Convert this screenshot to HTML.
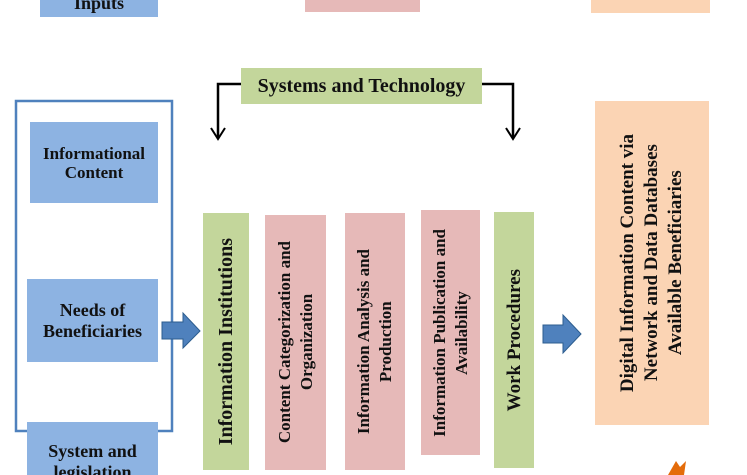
<html><head><style>
html,body{margin:0;width:747px;height:475px;overflow:hidden}
body{position:relative;background:#fff;font-family:"Liberation Serif",serif;font-weight:bold;color:#111}
.b{position:absolute;display:flex;align-items:center;justify-content:center;text-align:center;font-size:17px;line-height:19px;overflow:hidden}
.blue{background:#8db3e2}.pink{background:#e6b9b8}.green{background:#c3d69b}.peach{background:#fbd4b4}
.v{writing-mode:vertical-rl;transform:rotate(180deg);white-space:nowrap}
</style></head><body>
<div class="b blue" style="left:40px;top:-10px;width:118px;height:27px;font-size:18px">Inputs</div>
<div class="b pink" style="left:305px;top:0;width:115px;height:12px"></div>
<div class="b peach" style="left:591px;top:0;width:119px;height:13px"></div>
<svg width="747" height="475" style="position:absolute;left:0;top:0">
<polyline points="218,138 218,84 513,84 513,138" fill="none" stroke="#000" stroke-width="2.5"/>
<polyline points="211,128 218,139 225,128" fill="none" stroke="#000" stroke-width="2"/>
<polyline points="506,128 513,139 520,128" fill="none" stroke="#000" stroke-width="2"/>
<rect x="16" y="101" width="156" height="330" fill="none" stroke="#4f81bd" stroke-width="2.5"/>
<polygon points="162,322 183,322 183,313 200,331 183,348 183,339 162,339" fill="#4f81bd" stroke="#2c5d8f"/>
<polygon points="543,325 563,325 563,315 581,334 563,353 563,343 543,343" fill="#4f81bd" stroke="#2c5d8f"/>
<path d="M668 475 l8-14 l4 6 l6-6 l-2 14z" fill="#e46c0a"/>
</svg>
<div class="b green" style="left:241px;top:68px;width:241px;height:36px;font-size:20px">Systems and Technology</div>
<div class="b blue" style="left:30px;top:122px;width:128px;height:81px">Informational<br>Content</div>
<div class="b blue" style="left:27px;top:279px;width:131px;height:83px;font-size:18px;line-height:21px">Needs of<br>Beneficiaries</div>
<div class="b blue" style="left:27px;top:422px;width:131px;height:53px;font-size:18px;line-height:21px;align-items:flex-start;padding-top:19px;box-sizing:border-box">System and<br>legislation</div>
<div class="b green" style="left:203px;top:213px;width:46px;height:257px"><span class="v" style="font-size:20px">Information Institutions</span></div>
<div class="b pink" style="left:265px;top:215px;width:61px;height:255px"><span class="v" style="line-height:22px">Content Categorization and<br>Organization</span></div>
<div class="b pink" style="left:345px;top:213px;width:60px;height:257px"><span class="v" style="line-height:22px">Information Analysis and<br>Production</span></div>
<div class="b pink" style="left:421px;top:210px;width:59px;height:245px"><span class="v" style="line-height:22px">Information Publication and<br>Availability</span></div>
<div class="b green" style="left:494px;top:212px;width:40px;height:256px"><span class="v" style="font-size:19px">Work Procedures</span></div>
<div class="b peach" style="left:595px;top:101px;width:114px;height:324px"><span class="v" style="font-size:19px;line-height:24px">Digital Information Content via<br>Network and Data Databases<br>Available Beneficiaries</span></div>
</body></html>
